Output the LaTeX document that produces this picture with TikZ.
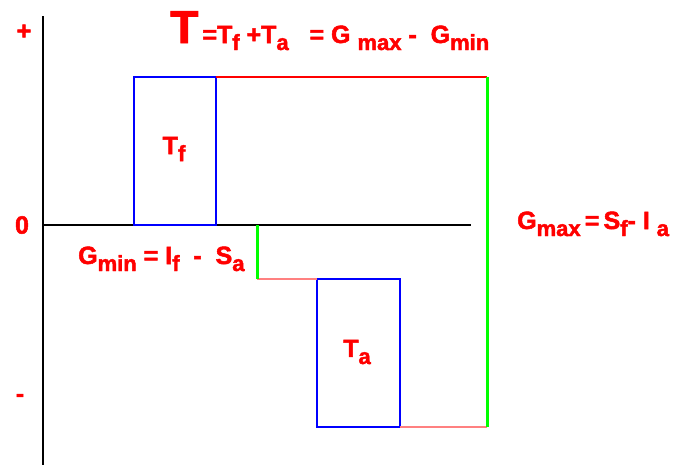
\documentclass[tikz,border=0pt]{standalone}
\usepackage{fontspec}
\setmainfont{Liberation Sans}[BoldFeatures={FakeBold=2}]
\newcommand{\lowsub}[1]{\raisebox{-0.28em}{\fontsize{22}{22}\selectfont #1}}
\definecolor{lred}{RGB}{255,128,128}
\begin{document}
\begin{tikzpicture}[x=1pt,y=-1pt,
  lab/.style={text=red,font=\bfseries\fontsize{25}{25}\selectfont,inner sep=0pt},
  axis/.style={black,line width=2pt},
  blk/.style={blue,line width=2pt},
  grn/.style={green,line width=3pt},
  rl/.style={red,line width=1.5pt},
  lrl/.style={lred,line width=1.5pt}]
\useasboundingbox (0,0) rectangle (677,466);
% axes
\coordinate (ytop) at (43,16);
\coordinate (ybot) at (43,465);
\coordinate (x0) at (43,225);
\coordinate (xend) at (471,225);
\draw[axis] (ytop) -- (ybot);
\draw[axis] (x0) -- (xend);
% boxes
\node[blk,draw,minimum width=82pt,minimum height=148pt,inner sep=0pt,outer sep=0pt,anchor=north west] (tf) at (134,77) {};
\node[blk,draw,minimum width=83pt,minimum height=148pt,inner sep=0pt,outer sep=0pt,anchor=north west] (ta) at (317,279) {};
\coordinate (gtop) at (487,77);
\coordinate (gbot) at (487,427);
\coordinate (gs1) at (257,225);
\coordinate (gs2) at (257,279);
\draw[rl] (tf.north east) -- (gtop);
\draw[lrl] (gs2) -- (ta.north west);
\draw[lrl] (ta.south east) -- (gbot);
\draw[grn] (gtop) -- (gbot);
\draw[grn] (gs1) -- (gs2);
% labels
\node[lab] (plus) at (24,32) {+};
\node[lab] (zero) at (22,225) {0};
\node[lab] (minus) at (20,398) {-};
\node[lab,anchor=base west] (title) at (170,43) {{\fontsize{46}{46}\selectfont T}\,=T\lowsub{f} +T\lowsub{a}\ \ \ = G \lowsub{max} - \ G\lowsub{min}};
\node[lab] (tflab) at (174,149) {T\lowsub{f}};
\node[lab] (talab) at (357,352) {T\lowsub{a}};
\node[lab,anchor=base west] (gmin) at (78,264) {G\lowsub{min} = I\lowsub{f} \ - \ S\lowsub{a}};
\node[lab,anchor=base west] (gmax) at (517,229) {G\lowsub{max}\,=\,S\lowsub{f}- I \lowsub{a}};
\end{tikzpicture}
\end{document}
